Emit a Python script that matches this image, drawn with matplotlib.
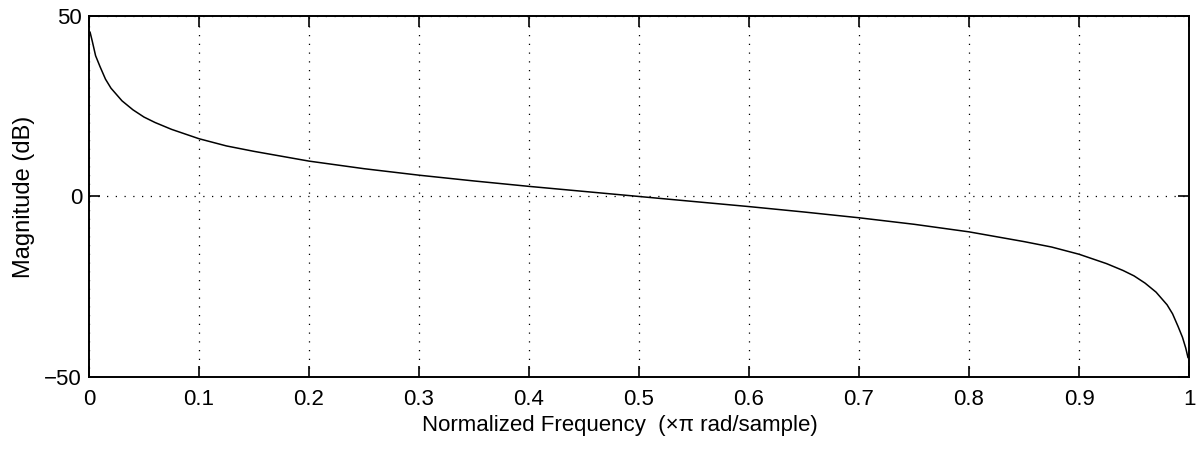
import matplotlib
matplotlib.use("Agg")
import matplotlib.pyplot as plt

# magnitude response
freq = [0.001, 0.003, 0.006, 0.01, 0.015, 0.02, 0.03, 0.04, 0.05, 0.06, 0.075,
        0.1, 0.125, 0.15, 0.2, 0.25, 0.3, 0.35, 0.4, 0.45, 0.5,
        0.55, 0.6, 0.65, 0.7, 0.75, 0.8, 0.85, 0.875, 0.9, 0.925,
        0.94, 0.95, 0.96, 0.97, 0.98, 0.985, 0.99, 0.994, 0.997, 0.999]
mag_db = [45.5, 43.0, 39.0, 36.0, 32.5, 30.0, 26.5, 24.0, 22.0, 20.5, 18.6,
          16.0, 14.0, 12.5, 9.8, 7.7, 5.9, 4.3, 2.8, 1.4, 0.0,
          -1.4, -2.8, -4.3, -5.9, -7.7, -9.8, -12.5, -14.0, -16.0, -18.6,
          -20.5, -22.0, -24.0, -26.5, -30.0, -32.5, -36.0, -39.0, -42.0, -44.6]

xticks = [0, 0.1, 0.2, 0.3, 0.4, 0.5, 0.6, 0.7, 0.8, 0.9, 1]
xticklabels = ["0", "0.1", "0.2", "0.3", "0.4", "0.5", "0.6", "0.7", "0.8", "0.9", "1"]
yticks = [-50, 0, 50]
yticklabels = ["\u221250", "0", "50"]

plt.rcParams["font.family"] = ["Liberation Sans", "DejaVu Sans"]

fig = plt.figure(figsize=(11.96, 4.49), dpi=100)
ax = fig.add_axes([0.0744, 0.1604, 0.9198, 0.804])

ax.plot(freq, mag_db, color="black", linewidth=1.1)

ax.set_xlim(0, 1)
ax.set_ylim(-50, 50)
ax.set_xticks(xticks)
ax.set_xticklabels(xticklabels)
ax.set_yticks(yticks)
ax.set_yticklabels(yticklabels)
ax.grid(True, color="black", linestyle=(0, (1, 6)), linewidth=0.9)
ax.tick_params(direction="in", length=8, width=1.2, labelsize=16,
               top=True, right=True)
ax.tick_params(axis="x", pad=9)
ax.tick_params(axis="y", pad=5)
for s in ax.spines.values():
    s.set_linewidth(1.4)

# label sits a little left of centre in the original
ax.set_xlabel("Normalized Frequency  (\u00d7\u03c0 rad/sample)", fontsize=16, labelpad=3, x=0.483)
ax.set_ylabel("Magnitude (dB)", fontsize=17, labelpad=7)

fig.savefig("out.png", dpi=100)
